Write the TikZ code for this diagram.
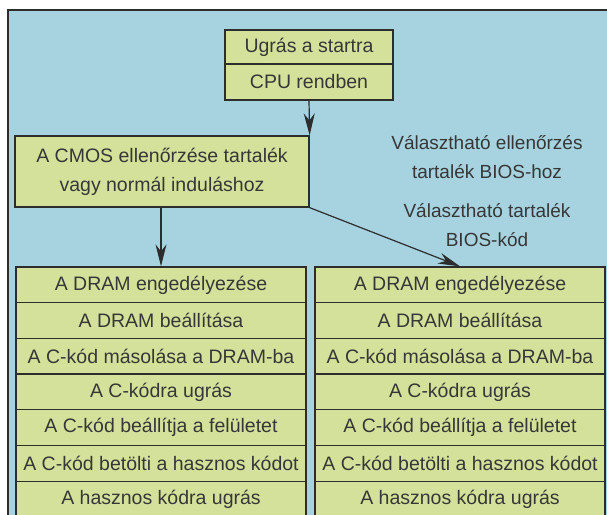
\documentclass[tikz,border=0pt]{standalone}
\usepackage{fontspec}
\setmainfont{Liberation Sans}
\usetikzlibrary{arrows.meta}
\definecolor{bgblue}{RGB}{166,211,223}
\definecolor{boxgreen}{RGB}{212,225,155}
\definecolor{ink}{RGB}{45,45,45}
\definecolor{txt}{RGB}{55,55,55}
\tikzset{
  box/.style={draw=ink, line width=1.3pt, fill=boxgreen, rectangle, inner sep=0pt, align=center, text=txt, font=\fontsize{19.5}{29}\selectfont},
  rowbox/.style={box, minimum width=290pt, minimum height=35.7pt},
  arr/.style={draw=ink, line width=1.2pt, -{Stealth[length=22pt,width=11pt,inset=7pt]}},
  note/.style={align=center, text=txt, font=\fontsize{19}{29}\selectfont, inner sep=0pt}
}
\begin{document}
\begin{tikzpicture}[x=1pt,y=-1pt]
\useasboundingbox (0,0) rectangle (607,514);
\begin{scope}
\clip (0,0) rectangle (607,514);
\draw[draw=ink, line width=1.2pt, fill=bgblue] (8,10) rectangle (640,540);
\end{scope}
% top boxes
\node[box, minimum width=168pt, minimum height=34pt] (ugras) at (309,47) {Ugrás a startra};
\node[box, minimum width=168pt, minimum height=36pt] (cpu) at (309,82) {CPU rendben};
% CMOS box
\node[box, minimum width=294pt, minimum height=71pt] (cmos) at (162,171.5) {A CMOS ellenőrzése tartalék\\vagy normál induláshoz};
% notes
\node[note] (n1) at (487,157.5) {Választható ellenőrzés\\tartalék BIOS-hoz};
\node[note] (n2) at (487,225) {Választható tartalék\\BIOS-kód};
% columns
\foreach \t [count=\i from 0] in {A DRAM engedélyezése, A DRAM beállítása, A C-kód másolása a DRAM-ba, A C-kód\-ra ugrás, A C-kód beállítja a felületet, A C-kód betölti a hasznos kódot, A hasznos kódra ugrás}{
  \node[rowbox] (l\i) at (161,{267+35.7*(\i+0.5)}) {\t};
  \node[rowbox] (r\i) at (460,{267+35.7*(\i+0.5)}) {\t};
}
% arrows
\draw[arr] (cpu.south) -- (cmos.north east);
\draw[arr] (cmos.south -| l0.north) -- (l0.north);
\draw[arr] (cmos.south east) -- (r0.north);
\end{tikzpicture}
\end{document}
